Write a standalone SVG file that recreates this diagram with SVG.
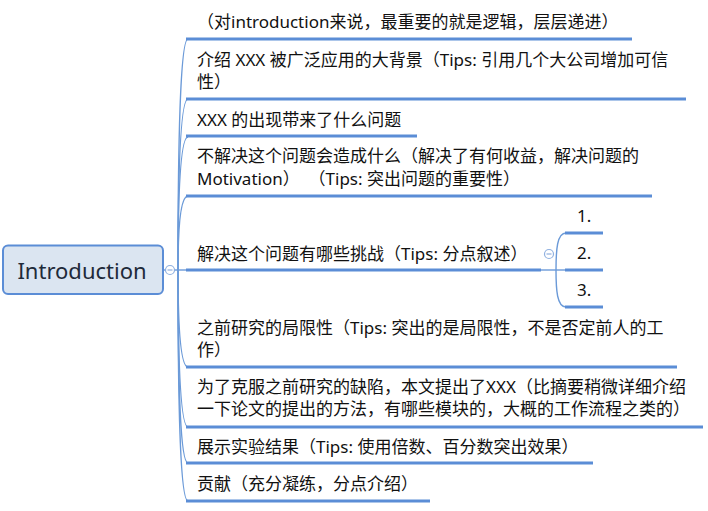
<svg xmlns="http://www.w3.org/2000/svg" width="708" height="511" viewBox="0 0 708 511">
<style>
.t{font-family:"Noto Sans","Noto Sans CJK SC",sans-serif;font-size:17px;fill:#111}
.ul{stroke:#5b8dd6;stroke-width:3;fill:none}
.br{stroke:#6b9ad8;stroke-width:1.4;fill:none}
.cc{fill:#fff;stroke:#8fb0e0;stroke-width:1.2}
.mn{stroke:#8fb0e0;stroke-width:1.2}
</style>
<rect width="708" height="511" fill="#fff"/>
<g id="connectors">
<line class="br" x1="163" y1="270" x2="187" y2="270"/>
<path class="br" d="M178,270 C178,150 180,39 188,39"/>
<path class="br" d="M178,270 C178,180 180,99 188,99"/>
<path class="br" d="M178,270 C178,200 180,137 188,137"/>
<path class="br" d="M178,270 C178,230 180,196 188,196"/>
<path class="br" d="M178,270 C178,320 180,367 188,367"/>
<path class="br" d="M178,270 C178,350 180,427 188,427"/>
<path class="br" d="M178,270 C178,380 180,463 188,463"/>
<path class="br" d="M178,270 C178,400 180,501 188,501"/>
<line class="br" x1="541" y1="270" x2="566" y2="270"/>
<path class="br" d="M556,270 C556,250 557,233 566,233"/>
<path class="br" d="M556,270 C556,290 557,307 566,307"/>
<circle class="cc" cx="170" cy="270" r="4.5"/>
<line class="mn" x1="167.5" y1="270" x2="172.5" y2="270"/>
<circle class="cc" cx="549" cy="254" r="4.5"/>
<line class="mn" x1="546.5" y1="254" x2="551.5" y2="254"/>
</g>
<g id="root">
<rect x="3" y="245.5" width="160" height="48.5" rx="5" fill="#dbe5f1" stroke="#5b8dd6" stroke-width="2"/>
<text x="82" y="279" text-anchor="middle" font-family="Noto Sans, sans-serif" font-size="22" fill="#1e2a3a">Introduction</text>
</g>
<g id="n1">
<line class="ul" x1="186" y1="39" x2="632" y2="39"/>
<text class="t" x="197" y="28">（对introduction来说，最重要的就是逻辑，层层递进）</text>
</g>
<g id="n2">
<line class="ul" x1="186" y1="99" x2="686" y2="99"/>
<text class="t" x="197" y="66">介绍 XXX 被广泛应用的大背景（Tips: 引用几个大公司增加可信</text>
<text class="t" x="197" y="88">性）</text>
</g>
<g id="n3">
<line class="ul" x1="186" y1="136" x2="417" y2="136"/>
<text class="t" x="197" y="126">XXX 的出现带来了什么问题</text>
</g>
<g id="n4">
<line class="ul" x1="186" y1="196" x2="652" y2="196"/>
<text class="t" x="197" y="162">不解决这个问题会造成什么（解决了有何收益，解决问题的</text>
<text class="t" x="197" y="185" xml:space="preserve">Motivation）  （Tips: 突出问题的重要性）</text>
</g>
<g id="n5">
<line class="ul" x1="186" y1="270" x2="541" y2="270"/>
<text class="t" x="197" y="260">解决这个问题有哪些挑战（Tips: 分点叙述）</text>
</g>
<g id="n5a">
<line class="ul" x1="565" y1="233" x2="603" y2="233"/>
<text class="t" x="577" y="222">1.</text>
</g>
<g id="n5b">
<line class="ul" x1="565" y1="270" x2="603" y2="270"/>
<text class="t" x="577" y="259">2.</text>
</g>
<g id="n5c">
<line class="ul" x1="565" y1="307" x2="603" y2="307"/>
<text class="t" x="577" y="296">3.</text>
</g>
<g id="n6">
<line class="ul" x1="186" y1="367" x2="677" y2="367"/>
<text class="t" x="197" y="334">之前研究的局限性（Tips: 突出的是局限性，不是否定前人的工</text>
<text class="t" x="197" y="356">作）</text>
</g>
<g id="n7">
<line class="ul" x1="186" y1="427" x2="703" y2="427"/>
<text class="t" x="197" y="393">为了克服之前研究的缺陷，本文提出了XXX（比摘要稍微详细介绍</text>
<text class="t" x="197" y="415">一下论文的提出的方法，有哪些模块的，大概的工作流程之类的）</text>
</g>
<g id="n8">
<line class="ul" x1="186" y1="463" x2="593" y2="463"/>
<text class="t" x="197" y="453">展示实验结果（Tips: 使用倍数、百分数突出效果）</text>
</g>
<g id="n9">
<line class="ul" x1="186" y1="501" x2="430" y2="501"/>
<text class="t" x="197" y="490">贡献（充分凝练，分点介绍）</text>
</g>
</svg>
